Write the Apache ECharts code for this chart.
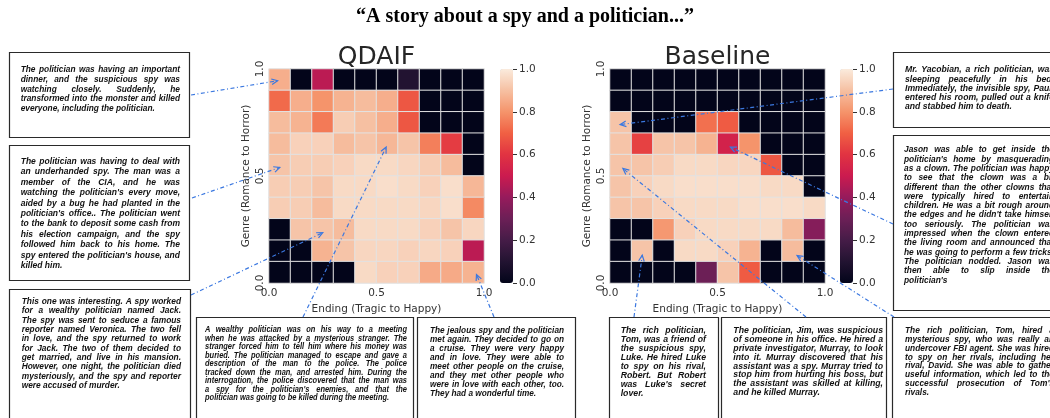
<!DOCTYPE html>
<html>
<head>
<meta charset="utf-8">
<script src="https://cdn.jsdelivr.net/npm/echarts@6/dist/echarts.min.js"></script>
<style>
  html, body { margin: 0; padding: 0; background: #fff; }
  #chart { width: 1050px; height: 418px; }
</style>
</head>
<body>
<div id="chart"></div>
<script>
// 10 x 10 archive cells, ending (x) by genre (y)
const cells = ['0', '1', '2', '3', '4', '5', '6', '7', '8', '9']
const axisStep = 0.5
const cbarStep = 0.2

// rows listed from the top of the plot (genre 1.0) down to genre 0.0
const qdaifRows = [
    [0.86, 0, 0.47, 0, 0, 0, 0.1, 0, 0, 0],
    [0.72, 0.86, 0.8, 0.87, 0.89, 0.86, 0.68, 0, 0, 0],
    [0.89, 0.87, 0.75, 0.93, 0.9, 0.86, 0.68, 0, 0, 0],
    [0.89, 0.94, 0.94, 0.89, 0.91, 0.88, 0.91, 0.76, 0.62, 0],
    [0.91, 0.93, 0.93, 0.94, 0.96, 0.96, 0.95, 0.93, 0.89, 0],
    [0.93, 0.93, 0.91, 0.96, 0.96, 0.97, 0.96, 0.94, 0.97, 0.88],
    [0.93, 0.93, 0.89, 0.96, 0.96, 0.96, 0.96, 0.95, 0.97, 0.78],
    [0, 0.91, 0.91, 0.89, 0.96, 0.96, 0.96, 0.94, 0.91, 0.95],
    [0, 0, 0.87, 0.91, 0.95, 0.95, 0.94, 0.95, 0.94, 0.47],
    [0, 0, 0, 0, 0.96, 0.94, 0.94, 0.85, 0.85, 0.87]
]
const baselineRows = [
    [0, 0, 0, 0, 0, 0, 0, 0, 0, 0],
    [0, 0, 0, 0, 0, 0, 0, 0, 0, 0],
    [0.91, 0, 0, 0, 0.73, 0.69, 0, 0, 0, 0],
    [0.91, 0.63, 0.91, 0.91, 0.87, 0.53, 0.8, 0, 0, 0],
    [0.91, 0.91, 0.93, 0.96, 0.96, 0.95, 0.95, 0.68, 0, 0],
    [0.91, 0.94, 0.96, 0.97, 0.97, 0.97, 0.97, 0.96, 0.96, 0],
    [0.91, 0.91, 0.94, 0.96, 0.96, 0.96, 0.97, 0.97, 0.97, 0.96],
    [0, 0, 0.81, 0.94, 0.96, 0.96, 0.96, 0.96, 0.89, 0.36],
    [0, 0.91, 0, 0.96, 0.96, 0.94, 0.87, 0, 0.89, 0],
    [0, 0, 0, 0, 0.3, 0.91, 0.69, 0, 0, 0]
]

const storyA = [
    'The politician was having an important',
    'dinner, and the suspicious spy was',
    'watching closely. Suddenly, he',
    'transformed into the monster and killed',
    'everyone, including the politician.'
]
const storyB = [
    'The politician was having to deal with',
    'an underhanded spy. The man was a',
    'member of the CIA, and he was',
    "watching the politician's every move,",
    'aided by a bug he had planted in the',
    "politician's office.. The politician went",
    'to the bank to deposit some cash from',
    'his election campaign, and the spy',
    'followed him back to his home. The',
    "spy entered the politician's house, and",
    'killed him.'
]
const storyC = [
    'This one was interesting. A spy worked',
    'for a wealthy politician named Jack.',
    'The spy was sent to seduce a famous',
    'reporter named Veronica. The two fell',
    'in love, and the spy returned to work',
    'for Jack. The two of them decided to',
    'get married, and live in his mansion.',
    'However, one night, the politician died',
    'mysteriously, and the spy and reporter',
    'were accused of murder.'
]
const storyD = [
    'A wealthy politician was on his way to a meeting',
    'when he was attacked by a mysterious stranger. The',
    'stranger forced him to tell him where his money was',
    'buried. The politician managed to escape and gave a',
    'description of the man to the police. The police',
    'tracked down the man, and arrested him. During the',
    'interrogation, the police discovered that the man was',
    "a spy for the politician's enemies, and that the",
    'politician was going to be killed during the meeting.'
]
const storyE = [
    'The jealous spy and the politician',
    'met again. They decided to go on',
    'a cruise. They were very happy',
    'and in love. They were able to',
    'meet other people on the cruise,',
    'and they met other people who',
    'were in love with each other, too.',
    'They had a wonderful time.'
]
const storyF = [
    'The rich politician,',
    'Tom, was a friend of',
    'the suspicious spy,',
    'Luke. He hired Luke',
    'to spy on his rival,',
    'Robert. But Robert',
    "was Luke's secret",
    'lover.'
]
const storyG = [
    'The politician, Jim, was suspicious',
    'of someone in his office. He hired a',
    'private investigator, Murray, to look',
    'into it. Murray discovered that his',
    'assistant was a spy. Murray tried to',
    'stop him from hurting his boss, but',
    'the assistant was skilled at killing,',
    'and he killed Murray.'
]
const storyH = [
    'The rich politician, Tom, hired a',
    'mysterious spy, who was really an',
    'undercover FBI agent. She was hired',
    'to spy on her rivals, including her',
    'rival, David. She was able to gather',
    'useful information, which led to the',
    "successful prosecution of Tom's",
    'rivals.'
]
const storyI = [
    'Mr. Yacobian, a rich politician, was',
    'sleeping peacefully in his bed.',
    'Immediately, the invisible spy, Paul,',
    'entered his room, pulled out a knife',
    'and stabbed him to death.'
]
const storyJ = [
    'Jason was able to get inside the',
    "politician's home by masquerading",
    'as a clown. The politician was happy',
    'to see that the clown was a bit',
    'different than the other clowns that',
    'were typically hired to entertain',
    'children. He was a bit rough around',
    "the edges and he didn't take himself",
    'too seriously. The politician was',
    'impressed when the clown entered',
    'the living room and announced that',
    'he was going to perform a few tricks.',
    'The politician nodded. Jason was',
    'then able to slip inside the',
    "politician's"
]

// seaborn "rocket"
const rocket = ['#03051a', '#221331', '#451c47', '#6c1f56', '#961b5c', '#cb1b4f',
    '#e13342', '#f06043', '#f5946b', '#f6c0a2', '#faebdd']

const toCells = rows => {
    const out = []
    rows.forEach((row, i) => {
        row.forEach((v, j) => out.push([j, rows.length - 1 - i, v]))
    })
    return out
}

const chart = echarts.init(document.getElementById('chart'))

const grids = [
    { left: 269, top: 69, width: 215, height: 214 },
    { left: 610, top: 69, width: 215, height: 214 },
    { left: 500, top: 69, width: 13, height: 214 },
    { left: 840, top: 69, width: 13, height: 214 }
]
const axisFont = { fontFamily: 'DejaVu Sans', fontSize: 10.5, color: '#333' }

const catX = i => ({ type: 'category', gridIndex: i, data: cells, position: 'top', show: false })
const catY = i => ({ type: 'category', gridIndex: i, data: cells, position: 'right', show: false })
const valX = i => ({
    type: 'value', gridIndex: i, position: 'bottom', min: 0, max: 1, interval: axisStep,
    name: 'Ending (Tragic to Happy)', nameLocation: 'middle', nameGap: 15,
    nameTextStyle: axisFont,
    axisLine: { show: false }, axisTick: { show: false }, splitLine: { show: false },
    axisLabel: Object.assign({ margin: 5, formatter: v => v.toFixed(1) }, axisFont)
})
const valY = i => ({
    type: 'value', gridIndex: i, position: 'left', min: 0, max: 1, interval: axisStep,
    name: 'Genre (Romance to Horror)', nameLocation: 'middle', nameGap: 17, nameRotate: 90,
    nameTextStyle: axisFont,
    axisLine: { show: false }, axisTick: { show: false }, splitLine: { show: false },
    axisLabel: Object.assign({ margin: 3, rotate: 90, formatter: v => v.toFixed(1) }, axisFont)
})
const cbarX = i => ({ type: 'category', gridIndex: i, data: [''], show: false })
const cbarY = i => ({
    type: 'value', gridIndex: i, position: 'right', min: 0, max: 1, interval: cbarStep,
    axisLine: { show: false }, splitLine: { show: false },
    axisTick: { show: true, length: 4, lineStyle: { color: '#333' } },
    axisLabel: Object.assign({ margin: 6, formatter: v => v.toFixed(1) }, axisFont)
})

const heat = (data, i) => ({
    type: 'heatmap', xAxisIndex: i, yAxisIndex: i, data: data,
    itemStyle: { borderColor: '#e2e2e2', borderWidth: 1 },
    emphasis: { disabled: true }
})

const cbar = (i, left) => ({
    type: 'continuous', seriesIndex: i, min: 0, max: 1, orient: 'vertical',
    left: left, top: 69, itemWidth: 13, itemHeight: 214, padding: 0,
    calculable: false, hoverLink: false, inRange: { color: rocket }
})

chart.setOption({
    animation: false,
    title: [
        {
            text: '\u201cA story about a spy and a politician...\u201d', left: 525, textAlign: 'center', top: 5, padding: 0,
            textStyle: { fontFamily: 'Liberation Serif', fontWeight: 'bold', fontSize: 20, lineHeight: 24, color: '#000' }
        },
        {
            text: 'QDAIF', left: 376.5, textAlign: 'center', top: 42, padding: 0,
            textStyle: { fontFamily: 'DejaVu Sans', fontWeight: 'normal', fontSize: 25, lineHeight: 30, color: '#262626' }
        },
        {
            text: 'Baseline', left: 717.5, textAlign: 'center', top: 42, padding: 0,
            textStyle: { fontFamily: 'DejaVu Sans', fontWeight: 'normal', fontSize: 25, lineHeight: 30, color: '#262626' }
        }
    ],
    grid: grids,
    xAxis: [catX(0), catX(1), valX(0), valX(1), cbarX(2), cbarX(3)],
    yAxis: [catY(0), catY(1), valY(0), valY(1), cbarY(2), cbarY(3)],
    visualMap: [cbar(0, 500), cbar(1, 840)],
    series: [heat(toCells(qdaifRows), 0), heat(toCells(baselineRows), 1)]
})

// story boxes: rect, text column, first line centre, line step, horizontal squeeze
const boxes = [
    { lines: storyA, rect: [9, 52, 180, 85], tx: [20.7, 180], y0: 70, lh: 9.6, sx: 1 },
    { lines: storyB, rect: [9, 145, 180, 135], tx: [20.7, 180], y0: 161.7, lh: 10.4, sx: 1 },
    { lines: storyC, rect: [9, 289, 181, 140], tx: [21.7, 181], y0: 301.7, lh: 9.33, sx: 1 },
    { lines: storyD, rect: [196, 317, 217, 120], tx: [205, 407], y0: 330, lh: 8.5, sx: 0.88 },
    { lines: storyE, rect: [417, 317, 158, 120], tx: [430, 564], y0: 331, lh: 8.9, sx: 1 },
    { lines: storyF, rect: [609, 317, 109, 120], tx: [620.7, 706], y0: 331, lh: 8.9, sx: 1 },
    { lines: storyG, rect: [721, 317, 165, 120], tx: [733.3, 883], y0: 330.7, lh: 8.85, sx: 1 },
    { lines: storyH, rect: [892, 317, 200, 120], tx: [905, 1054], y0: 330.7, lh: 8.85, sx: 1 },
    { lines: storyI, rect: [893, 52, 200, 75], tx: [905, 1054], y0: 70, lh: 9.2, sx: 1 },
    { lines: storyJ, rect: [893, 135, 200, 175], tx: [904, 1054], y0: 150, lh: 9.3, sx: 1 }
]

// arrows from a box edge (px) to a point in the heatmap's own 0..1 space
const arrows = [
    { from: [191, 95], plot: 0, to: [0.04, 0.945] },
    { from: [192, 198], plot: 0, to: [0.05, 0.54] },
    { from: [191, 295], plot: 0, to: [0.25, 0.235] },
    { from: [303, 317], plot: 0, to: [0.545, 0.635] },
    { from: [494, 317], plot: 0, to: [0.965, 0.04] },
    { from: [893, 89], plot: 1, to: [0.047, 0.74] },
    { from: [893, 224], plot: 1, to: [0.56, 0.635] },
    { from: [634, 317], plot: 1, to: [0.15, 0.13] },
    { from: [806, 317], plot: 1, to: [0.06, 0.535] },
    { from: [894, 317], plot: 1, to: [0.87, 0.128] }
]

const measure = document.createElement('canvas').getContext('2d')
const fontOf = fs => 'italic bold ' + fs + 'px "Liberation Sans"'

// largest size at which every justified line still fits its column
function fitSize(b) {
    measure.font = fontOf(10)
    let fs = 99
    b.lines.forEach((line, i) => {
        if (i === b.lines.length - 1) return
        fs = Math.min(fs, 10 * (b.tx[1] - b.tx[0]) / (measure.measureText(line).width * b.sx))
    })
    return Math.min(fs * 0.985, b.lh)
}

function boxGraphics(b) {
    const fs = fitSize(b)
    const font = fontOf(fs)
    measure.font = font
    const els = [{
        type: 'rect', z: 4, silent: true,
        shape: { x: b.rect[0] + 0.5, y: b.rect[1] + 0.5, width: b.rect[2], height: b.rect[3] },
        style: { fill: '#fff', stroke: '#2a2a2a', lineWidth: 1.2 }
    }]
    const space = measure.measureText(' ').width * b.sx
    b.lines.forEach((line, i) => {
        const y = b.y0 + i * b.lh
        const words = line.split(' ')
        const ws = words.map(w => measure.measureText(w).width * b.sx)
        const total = ws.reduce((a, c) => a + c, 0)
        let gap = space
        if (i < b.lines.length - 1 && words.length > 1) {
            gap = Math.max(space * 0.5, (b.tx[1] - b.tx[0] - total) / (words.length - 1))
        }
        let x = b.tx[0]
        words.forEach((w, k) => {
            els.push({
                type: 'text', z: 5, silent: true, x: x, y: y, scaleX: b.sx,
                style: {
                    text: w, font: font, fill: '#111',
                    align: 'left', verticalAlign: 'middle',
                    textAlign: 'left', textVerticalAlign: 'middle'
                }
            })
            x += ws[k] + gap
        })
    })
    return els
}

function arrowGraphics(a) {
    const tip = chart.convertToPixel({ xAxisIndex: 2 + a.plot, yAxisIndex: 2 + a.plot }, a.to)
    const dx = tip[0] - a.from[0]
    const dy = tip[1] - a.from[1]
    const len = Math.sqrt(dx * dx + dy * dy)
    const ux = dx / len
    const uy = dy / len
    const L = 6
    const W = 2.8
    const blue = '#3b78e0'
    return [
        {
            type: 'line', z: 8, silent: true,
            shape: { x1: a.from[0], y1: a.from[1], x2: tip[0], y2: tip[1] },
            style: { stroke: blue, lineWidth: 1.2, lineDash: [4, 2.5, 1, 2.5] }
        },
        {
            type: 'polyline', z: 8, silent: true,
            shape: {
                points: [
                    [tip[0] - ux * L - uy * W, tip[1] - uy * L + ux * W],
                    [tip[0], tip[1]],
                    [tip[0] - ux * L + uy * W, tip[1] - uy * L - ux * W]
                ]
            },
            style: { stroke: blue, lineWidth: 1.2, fill: null }
        }
    ]
}

let elements = []
boxes.forEach(b => { elements = elements.concat(boxGraphics(b)) })
arrows.forEach(a => { elements = elements.concat(arrowGraphics(a)) })
chart.setOption({ graphic: { elements: elements } })
</script>
</body>
</html>
